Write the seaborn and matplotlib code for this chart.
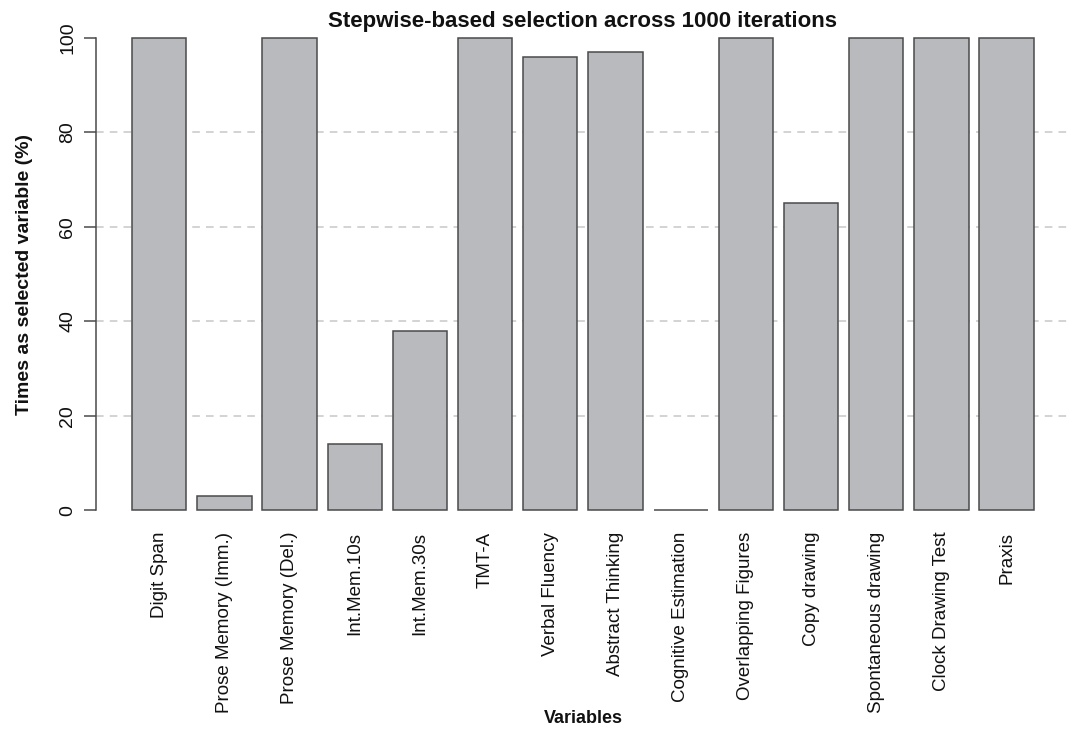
import matplotlib
matplotlib.use('Agg')
import matplotlib.pyplot as plt
import seaborn as sns

# Selection frequency per variable (%)
variables = ['Digit Span', 'Prose Memory (Imm.)', 'Prose Memory (Del.)', 'Int.Mem.10s',
             'Int.Mem.30s', 'TMT-A', 'Verbal Fluency', 'Abstract Thinking',
             'Cognitive Estimation', 'Overlapping Figures', 'Copy drawing',
             'Spontaneous drawing', 'Clock Drawing Test', 'Praxis']
selected_pct = [100, 3, 100, 14, 38, 100, 96, 97, 0, 100, 65, 100, 100, 100]
y_ticks = [0, 20, 40, 60, 80, 100]
grid_lines = [20, 40, 60, 80]

sns.set_style('white')
plt.rcParams['font.family'] = ['Liberation Sans', 'DejaVu Sans']
plt.rcParams['text.color'] = '#111111'
plt.rcParams['axes.labelcolor'] = '#111111'
plt.rcParams['xtick.color'] = '#111111'
plt.rcParams['ytick.color'] = '#111111'

fig = plt.figure(figsize=(10.67, 7.3), dpi=100)
ax = fig.add_axes([0.0899, 0.2753, 0.9128, 0.6986])

for g in grid_lines:
    ax.axhline(g, color='#c8c8c8', lw=1.1, dashes=(5, 4), zorder=0)

sns.barplot(x=variables, y=selected_pct, color='#b9babe', edgecolor='#4a4a4a',
            linewidth=1.1, width=0.833, saturation=1, ax=ax, zorder=2)

ax.set_xlim(-0.97, 13.97)
ax.set_ylim(-4, 104)
ax.set_yticks(y_ticks)
ax.set_yticklabels([str(t) for t in y_ticks], rotation=90, va='center', fontsize=14)
ax.tick_params(axis='y', length=9, width=1.1, color='#4a4a4a', pad=5, left=True)
ax.tick_params(axis='x', length=0, pad=2)
ax.set_xticks(range(len(variables)))
ax.set_xticklabels(variables, rotation=90, fontsize=13.5, va='top')

for s in ['top', 'right', 'bottom']:
    ax.spines[s].set_visible(False)
ax.spines['left'].set_bounds(0, 100)
ax.spines['left'].set_color('#4a4a4a')
ax.spines['left'].set_linewidth(1.1)

ax.set_title('Stepwise-based selection across 1000 iterations', fontsize=16,
             fontweight='bold', pad=-6)
ax.set_ylabel('Times as selected variable (%)', fontsize=14, fontweight='bold', labelpad=19)
fig.text(0.5465, 0.0164, 'Variables', ha='center', va='center', fontsize=13, fontweight='bold')

fig.savefig('out.png', dpi=100, facecolor='white')
